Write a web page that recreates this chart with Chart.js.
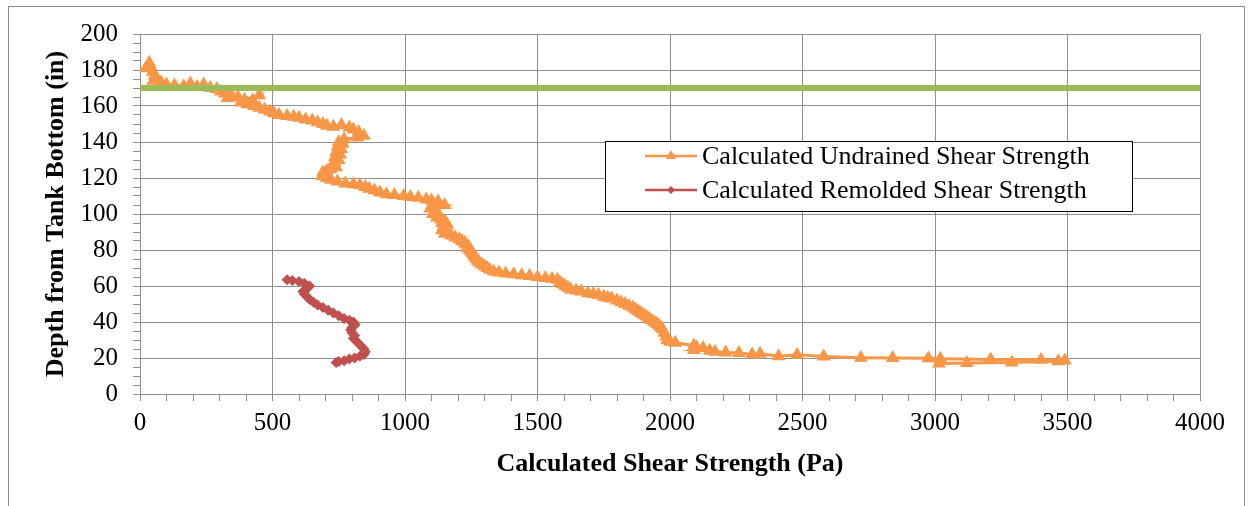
<!DOCTYPE html>
<html>
<head>
<meta charset="utf-8">
<script src="https://cdn.jsdelivr.net/npm/chart.js"></script>
<style>
  html, body { margin: 0; padding: 0; background: #fff; }
  #wrap { position: relative; width: 1250px; height: 506px; overflow: hidden; }
  #frame { position: absolute; left: 8px; top: 6px; width: 1237px; height: 600px; border: 1px solid #8c8c8c; box-sizing: border-box; }
  #chart { position: absolute; left: 0; top: 0; }
</style>
</head>
<body>
<div id="wrap">
  <div id="frame"></div>
  <canvas id="chart" width="1250" height="506"></canvas>
</div>
<script>
// depth (in) and shear strength (Pa), top to bottom
const undrainedDepth = [
  184, 182, 181, 179, 177, 175, 174, 173, 172, 171.5,
  171, 172.5, 170.5, 172, 170, 169.5, 168, 167, 166, 164.5,
  165, 163.5, 166, 163, 162, 161, 160, 159, 158, 157,
  156, 155, 154.5, 154, 153.5, 152.5, 152, 151, 150, 149,
  148.5, 149.5, 148, 147, 145.5, 143.5, 142.5, 141.5, 140, 139,
  137.5, 136, 134.5, 133, 131.5, 130, 128.5, 127, 126, 125,
  124, 123, 122, 121, 120, 119, 118, 117, 116.5, 116,
  115, 114, 113, 112, 111, 110.5, 110, 109.5, 109, 108,
  107.5, 107, 106, 105, 104, 103, 102, 101, 100, 99,
  98, 97, 96, 95, 94, 93, 92, 91, 90, 89,
  88, 87, 86, 85, 84, 83, 82, 81, 80, 79,
  78, 77, 76, 75, 74, 73, 72, 71, 70, 69,
  68, 67.5, 67, 66.5, 66, 65.5, 65, 64.5, 64, 63.5,
  62, 61, 60, 59, 58, 57.5, 57, 56, 55.5, 55,
  54, 53.5, 53, 52, 51, 50, 49, 48, 47, 46,
  45, 44, 43, 42, 41, 40, 39, 38, 37, 36,
  34, 32, 30, 29, 28.5, 27, 26, 25.5, 24.5, 24,
  23.5, 23, 22.8, 22, 22.4, 21, 21.8, 20.8, 20.2, 20,
  19.8, 19.6, 19.2, 19, 18.6, 18.2, 17.5, 17.2, 17
];
const undrainedStrength = [
  35, 40, 22, 48, 55, 65, 50, 80, 100, 130,
  165, 190, 215, 240, 265, 290, 305, 320, 345, 330,
  370, 395, 450, 425, 380, 405, 430, 450, 470, 490,
  505, 525, 555, 580, 600, 625, 650, 670, 690, 705,
  730, 760, 790, 805, 825, 845, 820, 770, 750, 765,
  745, 760, 740, 755, 735, 750, 735, 725, 740, 720,
  705, 690, 700, 688, 705, 720, 745, 775, 805, 830,
  850, 865, 885, 905, 930, 960, 995, 1020, 1050, 1080,
  1100, 1125, 1105, 1150, 1110, 1095, 1115, 1120, 1105, 1130,
  1120, 1135, 1150, 1140, 1160, 1145, 1150, 1140, 1155, 1150,
  1175, 1190, 1205, 1215, 1225, 1230, 1240, 1235, 1245, 1250,
  1255, 1260, 1265, 1270, 1275, 1280, 1290, 1300, 1310, 1320,
  1335, 1355, 1380, 1410, 1440, 1470, 1500, 1530, 1555, 1575,
  1585, 1595, 1605, 1615, 1625, 1645, 1665, 1690, 1710, 1730,
  1750, 1765, 1780, 1800, 1815, 1830, 1845, 1860, 1870, 1880,
  1890, 1900, 1910, 1920, 1930, 1940, 1950, 1958, 1965, 1972,
  1978, 1985, 1990, 2000, 2020, 2090, 2100, 2125, 2090, 2150,
  2170, 2210, 2260, 2310, 2340, 2410, 2480, 2580, 2720, 2840,
  2975, 3020, 3210, 3400, 3490, 3465, 3290, 3120, 3015
];
const remoldedDepth = [
  63.5, 63, 62.5, 61.5, 60, 58.5, 57, 55.5, 54, 52.5,
  51, 49.5, 48, 46.5, 45, 43.5, 42, 41, 40, 38.5,
  37, 35.5, 34, 32.5, 31, 29.5, 28, 26.5, 25, 23.5,
  22, 21, 20, 19.5, 18.5, 18, 17.5
];
const remoldedStrength = [
  555, 575, 600, 620, 640, 630, 615, 620, 630, 640,
  655, 670, 690, 710, 730, 750, 770, 790, 805, 812,
  800, 795, 800, 810, 805, 815, 825, 835, 845, 850,
  845, 830, 810, 790, 770, 750, 740
];
const limitDepth = 170;
const strengthRange = [0, 4000];
const depthRange = [0, 200];
const strengthMajor = 500, strengthMinor = 100;
const depthMajor = 20, depthMinor = 5;

const GRID = '#8e8e8e';
const SERIF = "'Liberation Serif', 'Times New Roman', serif";

const pairs = (xs, ys) => xs.map((x, i) => ({x: x, y: ys[i]}));

// legend drawn as a boxed panel inside the plot, like the original
const legendPanel = {
  id: 'legendPanel',
  afterDraw(chart, args, o) {
    const ctx = chart.ctx;
    const items = chart.data.datasets.filter(d => !d.hideInLegend);
    ctx.save();
    ctx.fillStyle = '#fff';
    ctx.fillRect(o.left, o.top, o.width, o.height);
    ctx.strokeStyle = '#000';
    ctx.lineWidth = 1;
    ctx.strokeRect(o.left + 0.5, o.top + 0.5, o.width, o.height);
    items.forEach((ds, i) => {
      const y = o.top + o.firstRow + i * o.rowGap;
      ctx.strokeStyle = ds.borderColor;
      ctx.lineWidth = 2.5;
      ctx.beginPath();
      ctx.moveTo(o.left + o.lineStart, y);
      ctx.lineTo(o.left + o.lineStart + o.lineLen, y);
      ctx.stroke();
      ctx.fillStyle = ds.pointBackgroundColor;
      Chart.helpers.drawPoint(ctx, {
        pointStyle: ds.pointStyle, radius: ds.legendRadius, rotation: 0, borderWidth: 0
      }, o.left + o.lineStart + o.lineLen / 2, y);
      ctx.fillStyle = '#000';
      ctx.font = '26px ' + SERIF;
      ctx.textBaseline = 'middle';
      ctx.textAlign = 'left';
      ctx.fillText(ds.label, o.left + o.lineStart + o.lineLen + 5, y + 1);
    });
    ctx.restore();
  }
};

new Chart(document.getElementById('chart'), {
  type: 'scatter',
  data: {
    datasets: [
      {
        label: 'Limit',
        hideInLegend: true,
        data: strengthRange.map(x => ({x: x, y: limitDepth})),
        showLine: true,
        borderColor: '#9bbb59',
        borderWidth: 6,
        pointRadius: 0,
        order: 0
      },
      {
        label: 'Calculated Undrained Shear Strength',
        data: pairs(undrainedStrength, undrainedDepth),
        showLine: true,
        borderColor: '#f79646',
        borderWidth: 3,
        pointStyle: 'triangle',
        pointRadius: 8,
        legendRadius: 6,
        pointBackgroundColor: '#f79646',
        pointBorderWidth: 0,
        order: 2
      },
      {
        label: 'Calculated Remolded Shear Strength',
        data: pairs(remoldedStrength, remoldedDepth),
        showLine: true,
        borderColor: '#c0504d',
        borderWidth: 4,
        pointStyle: 'rectRot',
        pointRadius: 5.5,
        legendRadius: 4,
        pointBackgroundColor: '#c0504d',
        pointBorderWidth: 0,
        order: 1
      }
    ]
  },
  options: {
    responsive: false,
    animation: false,
    layout: { padding: { left: 0, top: 34, right: 50, bottom: 0 } },
    plugins: {
      legend: { display: false },
      tooltip: { enabled: false },
      legendPanel: {
        left: 605, top: 141, width: 527, height: 70,
        firstRow: 15, rowGap: 34, lineStart: 40, lineLen: 52
      }
    },
    scales: {
      x: {
        type: 'linear',
        min: strengthRange[0],
        max: strengthRange[1],
        afterFit: s => { s.height = 112; },
        ticks: {
          stepSize: strengthMinor,
          autoSkip: false,
          maxRotation: 0,
          padding: 7,
          color: '#000',
          font: { family: SERIF, size: 25 },
          callback: v => v % strengthMajor === 0 ? v : ''
        },
        grid: {
          color: c => c.tick && c.tick.value % strengthMajor === 0 ? GRID : 'rgba(0,0,0,0)',
          tickColor: GRID,
          tickLength: 7,
          lineWidth: 1
        },
        border: { color: GRID, width: 1 },
        title: {
          display: true,
          text: 'Calculated Shear Strength (Pa)',
          color: '#000',
          font: { family: SERIF, size: 26, weight: 'bold' },
          padding: { top: 0, bottom: 26 }
        }
      },
      y: {
        type: 'linear',
        min: depthRange[0],
        max: depthRange[1],
        afterFit: s => { s.width = 140; },
        ticks: {
          stepSize: depthMinor,
          autoSkip: false,
          padding: 15,
          color: '#000',
          font: { family: SERIF, size: 25 },
          callback: v => v % depthMajor === 0 ? v : ''
        },
        grid: {
          color: c => c.tick && c.tick.value % depthMajor === 0 ? GRID : 'rgba(0,0,0,0)',
          tickColor: GRID,
          tickLength: 7,
          lineWidth: 1
        },
        border: { color: GRID, width: 1 },
        title: {
          display: true,
          text: 'Depth from Tank Bottom (in)',
          color: '#000',
          font: { family: SERIF, size: 26, weight: 'bold' },
          padding: { top: 41, bottom: 0 }
        }
      }
    }
  },
  plugins: [legendPanel]
});
</script>
</body>
</html>
